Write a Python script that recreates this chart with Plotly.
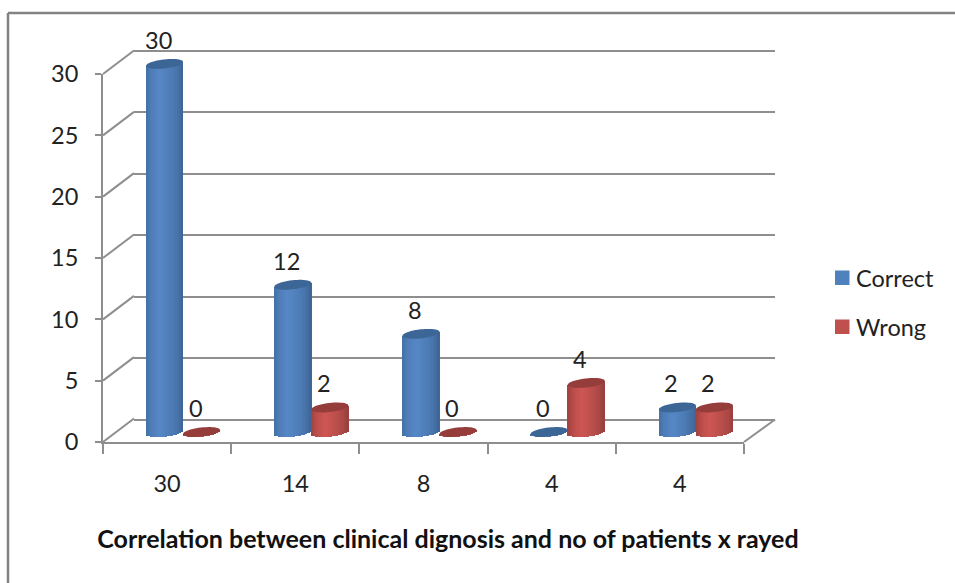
import numpy as np
import plotly.graph_objects as go

# ---- data ----
categories = ["30", "14", "8", "4", "4"]
correct = [30, 12, 8, 0, 2]
wrong = [0, 2, 0, 4, 2]
series_names = ["Correct", "Wrong"]
title_text = "Correlation between clinical dignosis and no of patients x rayed"

W, H = 955, 583
FONT = "Lato"
GREY = "#8e8e8e"
TXT = "#222222"
px = lambda v: v / W
py = lambda v: 1 - v / H

BAR_W = 0.289        # width of a cylinder in category units
RX = BAR_W / 2
RY = 0.37            # ellipse half height in value units
TILT = 0.16          # ellipse slant in value units
N = 18               # shading strips per cylinder
UNIT = 12.27         # pixels per value unit in the bar plane
ZERO = 432           # pixel row of value 0 in the bar plane
LO, HI = -2, 34
GRID_UNIT = 369 / 30


def shade(edge_l, mid, edge_r, u):
    t = 1 - abs(u + 0.25) / (1.25 if u > -0.25 else 0.75)
    t = t ** 0.5
    e = edge_l if u < -0.25 else edge_r
    c = [int(round(e[i] + (mid[i] - e[i]) * t)) for i in range(3)]
    return "rgb(%d,%d,%d)" % tuple(c)


STYLES = [
    dict(l=(62, 106, 156), m=(86, 135, 198), r=(56, 94, 140), top="#3c6696", sw="#4f81bd", side=-1, ly=278),
    dict(l=(148, 60, 58), m=(205, 86, 83), r=(140, 58, 56), top="#943d3b", sw="#c0504d", side=1, ly=327),
]

fig = go.Figure()
shapes = []
annos = []

for name, vals, st in zip(series_names, [correct, wrong], STYLES):
    xs, ys, bases, cols = [], [], [], []
    for i, v in enumerate(vals):
        cx = i + 0.5 + st["side"] * BAR_W / 2
        for k in range(N):
            u = (k + 0.5) / N * 2 - 1
            b = -RY * np.sqrt(1 - u * u) + TILT * u
            xs.append(cx + u * RX)
            bases.append(b)
            ys.append(v + TILT * u - b)
            cols.append(shade(st["l"], st["m"], st["r"], u))
        t = np.linspace(0, 2 * np.pi, 48)
        ex = cx + RX * np.cos(t)
        ey = v + TILT * np.cos(t) + RY * np.sin(t)
        path = "M" + " L".join(f"{a:.4f},{b:.4f}" for a, b in zip(ex, ey)) + " Z"
        shapes.append(dict(type="path", path=path, xref="x3", yref="y3", layer="above",
                           fillcolor=st["top"], line=dict(width=0)))
        annos.append(dict(x=cx, y=v, xref="x3", yref="y3", text=str(v), showarrow=False,
                          xshift=-6, yshift=24, font=dict(family=FONT, size=23.5, color=TXT)))
    fig.add_trace(go.Bar(x=xs, y=ys, base=bases, width=2 * RX / N * 1.25, xaxis="x3", yaxis="y3",
                         marker=dict(color=cols, line=dict(width=0)), showlegend=False,
                         hoverinfo="skip"))

# legend entries; the swatches sit closer to the text than a plotly legend allows
for name, st in zip(series_names, STYLES):
    fig.add_trace(go.Scatter(x=[None], y=[None], name=name, mode="markers", xaxis="x3", yaxis="y3",
                             legendgroup=name,
                             marker=dict(symbol="square", size=15, color="rgba(0,0,0,0)")))
    shapes.append(dict(type="rect", xref="paper", yref="paper", x0=px(835), x1=px(849.5),
                       y0=py(st["ly"] + 7), y1=py(st["ly"] - 7.5), fillcolor=st["sw"], line=dict(width=0)))

# empty traces so that the grid and tick subplots exist
fig.add_trace(go.Scatter(x=[None], y=[None], xaxis="x", yaxis="y", showlegend=False))
fig.add_trace(go.Scatter(x=[None], y=[None], xaxis="x2", yaxis="y2", showlegend=False))

# chart frame
frame = dict(type="line", xref="paper", yref="paper", layer="below", line=dict(color="#828282", width=2.5))
shapes.append({**frame, "x0": px(8), "x1": px(8), "y0": py(13), "y1": 0})
shapes.append({**frame, "x0": px(8), "x1": 1, "y0": py(13), "y1": py(13)})

# side wall and floor edges
edge = dict(type="line", xref="paper", yref="paper", layer="below", line=dict(color=GREY, width=2))
for v in range(0, 31, 5):
    yf = 442 - v * 368 / 30
    shapes.append({**edge, "x0": px(103), "x1": px(134), "y0": py(yf), "y1": py(yf - 23.5)})
shapes.append({**edge, "x0": px(744), "x1": px(775), "y0": py(442), "y1": py(419.5)})

fig.update_layout(
    width=W, height=H, margin=dict(l=0, r=0, t=0, b=0, autoexpand=False),
    paper_bgcolor="white", plot_bgcolor="rgba(0,0,0,0)", barmode="overlay", bargap=0,
    font=dict(family=FONT, color=TXT),
    title=dict(text=f"<b>{title_text}</b>", x=px(448), xanchor="center", y=py(539), yanchor="middle",
               font=dict(family=FONT, size=25, color="#111111")),
    legend=dict(x=px(816), y=py(256), xanchor="left", yanchor="top", bgcolor="rgba(0,0,0,0)",
                font=dict(family=FONT, size=23.5, color=TXT), tracegroupgap=16,
                itemsizing="trace", traceorder="grouped"),
    shapes=shapes, annotations=annos,
    # back wall grid (range padded by one unit so the end lines are kept)
    xaxis=dict(domain=[px(134), px(775)], range=[0, 5], visible=False, anchor="y"),
    yaxis=dict(domain=[py(419.5 + GRID_UNIT), py(50.5 - GRID_UNIT)], range=[-1, 31], dtick=5, tick0=0, anchor="x",
               showgrid=True, gridcolor=GREY, gridwidth=2, zeroline=False, showline=False,
               showticklabels=False, ticks=""),
    # front axes carrying ticks and labels
    xaxis2=dict(domain=[px(103), px(744)], range=[0, 5], anchor="y2", showgrid=False, zeroline=False,
                showline=True, linecolor=GREY, linewidth=2,
                tickmode="array", tickvals=[i + 0.5 for i in range(len(categories))], ticktext=categories,
                ticks="", ticklabelstandoff=20, tickfont=dict(family=FONT, size=23.5, color=TXT),
                minor=dict(tickmode="array", tickvals=list(range(6)), ticks="outside", ticklen=10,
                           tickwidth=2, tickcolor=GREY, showgrid=False)),
    yaxis2=dict(domain=[py(442), py(74)], range=[0, 30], dtick=5, anchor="x2", showgrid=False, zeroline=False,
                showline=True, linecolor=GREY, linewidth=2, ticks="outside", ticklen=6, tickwidth=2,
                tickcolor=GREY, ticklabelstandoff=12, tickfont=dict(family=FONT, size=23.5, color=TXT)),
    # bar plane
    xaxis3=dict(domain=[px(119), px(760)], range=[0, 5], visible=False, anchor="y3"),
    yaxis3=dict(domain=[py(ZERO - LO * UNIT), py(ZERO - HI * UNIT)], range=[LO, HI], visible=False, anchor="x3"),
)

fig.write_html("out.html", config={"displayModeBar": False},
               post_script="document.body.style.margin='0';document.body.style.overflow='hidden';")
